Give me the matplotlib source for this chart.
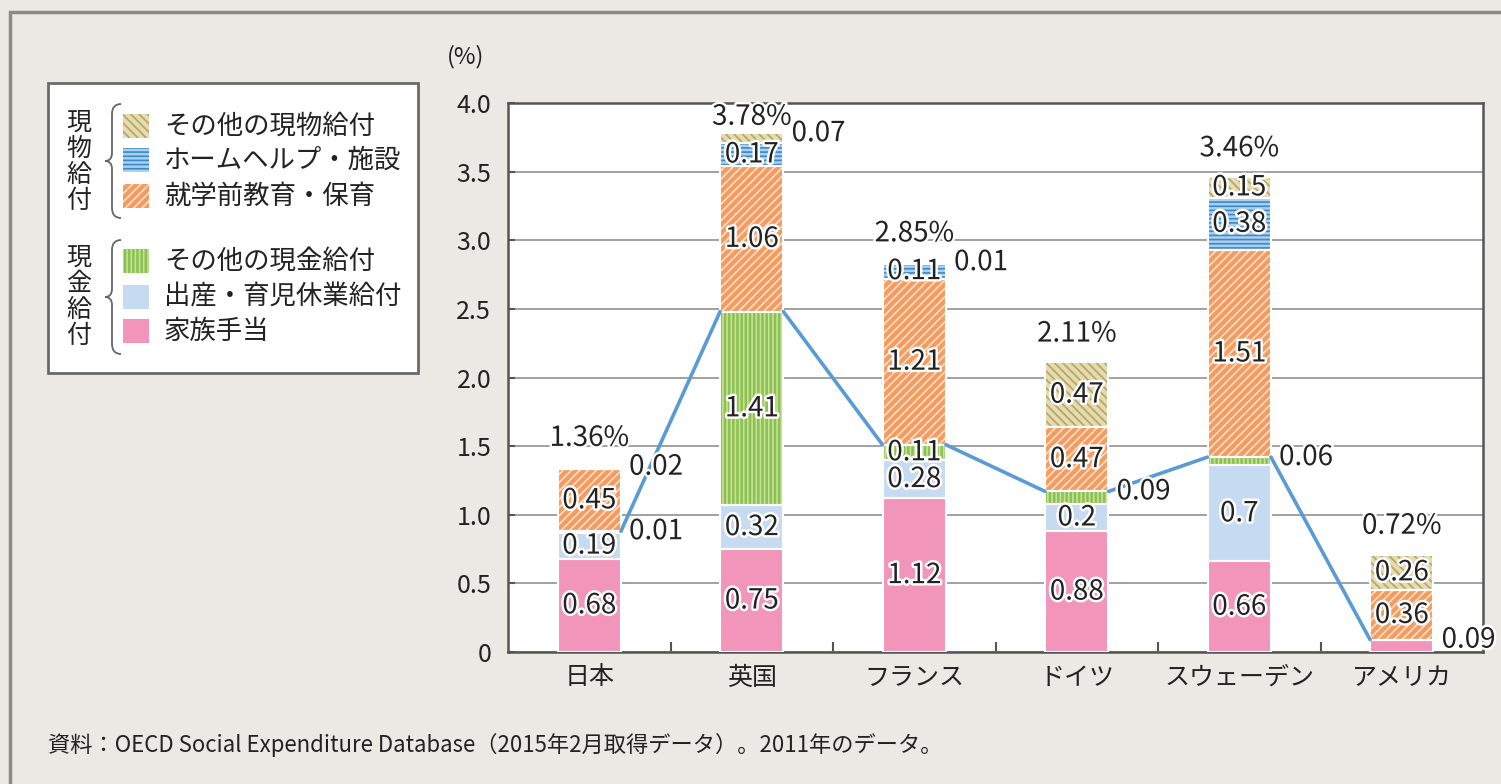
import matplotlib
matplotlib.use("Agg")
import matplotlib.pyplot as plt
import matplotlib.patheffects as pe
from matplotlib.patches import Rectangle, PathPatch
from matplotlib.path import Path
import numpy as np

plt.rcParams['font.family'] = ['Noto Sans CJK JP', 'DejaVu Sans']
plt.rcParams['hatch.linewidth'] = 1.2

countries = ['日本', '英国', 'フランス', 'ドイツ', 'スウェーデン', 'アメリカ']
family = [0.68, 0.75, 1.12, 0.88, 0.66, 0.09]        # 家族手当
maternity = [0.19, 0.32, 0.28, 0.20, 0.70, 0.0]      # 出産・育児休業給付
other_cash = [0.01, 1.41, 0.11, 0.09, 0.06, 0.0]     # その他の現金給付
preschool = [0.45, 1.06, 1.21, 0.47, 1.51, 0.36]     # 就学前教育・保育
homehelp = [0.0, 0.17, 0.11, 0.0, 0.38, 0.0]         # ホームヘルプ・施設
other_kind = [0.02, 0.07, 0.01, 0.47, 0.15, 0.26]    # その他の現物給付
totals = [1.36, 3.78, 2.85, 2.11, 3.46, 0.72]

series = [family, maternity, other_cash, preschool, homehelp, other_kind]
names = ['家族手当', '出産・育児休業給付', 'その他の現金給付',
         '就学前教育・保育', 'ホームヘルプ・施設', 'その他の現物給付']
# (face, hatch colour, hatch)
styles = [('#f295ba', '#f295ba', None),
          ('#c6dbf1', '#c6dbf1', None),
          ('#8cc04f', '#c4e29a', '||||'),
          ('#f49b5f', '#fde0cb', '////'),
          ('#a8d0f0', '#3f88c8', '----'),
          ('#e4dbae', '#b5a466', '\\\\\\\\')]

W, H = 1501, 784
fig = plt.figure(figsize=(W / 100, H / 100), dpi=100, facecolor='#ebe9e4')

# overlay in pixel coords for decorations
ov = fig.add_axes([0, 0, 1, 1], zorder=-1)
ov.set_xlim(0, W)
ov.set_ylim(H, 0)
ov.axis('off')
ov.patch.set_visible(False)
ov.plot([10, 10, W], [H, 12, 12], color='#8a8a86', lw=2.5, solid_joinstyle='miter')

ax = fig.add_axes([508 / W, 1 - 652 / H, (1483 - 508) / W, (652 - 103) / H])
ax.set_facecolor('white')
x = np.arange(len(countries))
w = 0.39

bottom = np.zeros(len(countries))
stroke = [pe.withStroke(linewidth=3.5, foreground='white')]
for vals, (fc, hc, hatch) in zip(series, styles):
    vals = np.array(vals)
    ax.bar(x, vals, w, bottom=bottom, color=fc, edgecolor=hc, linewidth=0,
           hatch=hatch, zorder=3)
    ax.bar(x, vals, w, bottom=bottom, fill=False, edgecolor='white',
           linewidth=1.5, zorder=4)
    for i, v in enumerate(vals):
        if v <= 0:
            continue
        if v >= 0.1:
            ax.text(x[i], bottom[i] + v / 2, f'{v:g}', ha='center', va='center',
                    fontsize=20, color='#222222', path_effects=stroke, zorder=6)
        else:
            ax.text(x[i] + w / 2 + 0.05, bottom[i] + v, f'{v:g}', ha='left',
                    va='center', fontsize=20, color='#222222',
                    path_effects=stroke, zorder=6, clip_on=False)
    bottom = bottom + vals

for i, t in enumerate(totals):
    ax.text(x[i], min(bottom[i] + 0.21, 3.9), f'{t:.2f}%', ha='center', va='center',
            fontsize=20, color='#222222', path_effects=stroke, zorder=6,
            clip_on=False)

cash = np.array(family) + np.array(maternity) + np.array(other_cash)
for i in range(len(x) - 1):
    ax.plot([x[i] + w / 2, x[i + 1] - w / 2], [cash[i], cash[i + 1]],
            color='#5b9bd5', lw=2.6, zorder=5, solid_capstyle='round')

ax.set_xlim(-0.5, 5.5)
ax.set_ylim(0, 4.0)
yt = np.arange(0, 4.01, 0.5)
ax.set_yticks(yt)
ax.set_yticklabels(['0'] + [f'{v:.1f}' for v in yt[1:]], fontsize=18, color='#222222')
ax.set_xticks(x)
ax.set_xticklabels(countries, fontsize=18, color='#222222')
ax.set_xticks(np.arange(0.5, 5.0, 1.0), minor=True)
ax.tick_params(axis='x', which='major', length=0, pad=9)
ax.tick_params(axis='x', which='minor', direction='in', length=7, width=1.5, color='#555555')
ax.tick_params(axis='y', direction='in', length=5, width=1.5, color='#555555', pad=12)
ax.grid(axis='y', color='#9a9a9a', lw=1.3, zorder=0)
ax.set_axisbelow(True)
for s in ax.spines.values():
    s.set_color('#555555')
    s.set_linewidth(1.8)

fig.text(466 / W, 1 - 57 / H, '(%)', ha='center', va='center', fontsize=17, color='#222222')

# legend
ov.add_patch(Rectangle((48, 83), 370, 290, facecolor='white', edgecolor='#6a6a6a', lw=2))
rows = [126, 160, 196, 261, 297, 331]
order = [5, 4, 3, 2, 1, 0]
for y, k in zip(rows, order):
    fc, hc, hatch = styles[k]
    ov.add_patch(Rectangle((123, y - 12), 26, 24, facecolor=fc, edgecolor=hc,
                           lw=0, hatch=hatch))
    ov.text(164, y, names[k], ha='left', va='center', fontsize=19, color='#222222')


def brace(xc, y0, y1):
    m = (y0 + y1) / 2
    verts = [(xc + 9, y0), (xc, y0), (xc, y0 + 10),
             (xc, m - 8), (xc, m), (xc - 7, m),
             (xc, m), (xc, m + 8), (xc, y1 - 10),
             (xc, y1), (xc + 9, y1)]
    codes = [Path.MOVETO, Path.CURVE3, Path.CURVE3,
             Path.LINETO, Path.CURVE3, Path.CURVE3,
             Path.CURVE3, Path.CURVE3, Path.LINETO,
             Path.CURVE3, Path.CURVE3]
    ov.add_patch(PathPatch(Path(verts, codes), fill=False, edgecolor='#666666', lw=1.3))


brace(112, 104, 218)
brace(112, 240, 354)
ov.text(79, 162, '現\n物\n給\n付', ha='center', va='center', fontsize=18,
        linespacing=1.0, color='#222222')
ov.text(79, 297, '現\n金\n給\n付', ha='center', va='center', fontsize=18,
        linespacing=1.0, color='#222222')

fig.text(48 / W, 1 - 745 / H,
         '資料：OECD Social Expenditure Database（2015年2月取得データ）。2011年のデータ。',
         ha='left', va='center', fontsize=16, color='#222222')

fig.savefig('out.png', dpi=100, facecolor=fig.get_facecolor())
